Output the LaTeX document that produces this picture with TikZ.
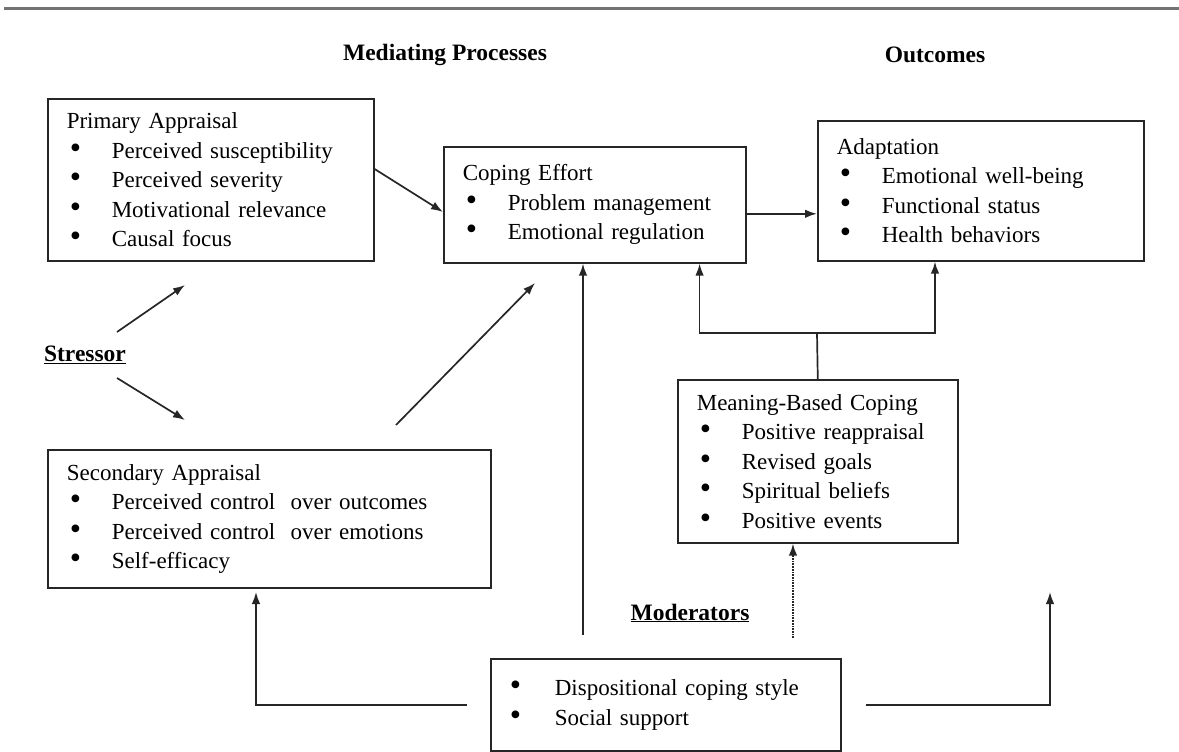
\documentclass[tikz,border=0pt]{standalone}
\usepackage{fontspec}
\setmainfont{Liberation Serif}
\usetikzlibrary{arrows.meta,calc}
\newcommand{\dotmark}{\scalebox{1.4}{\textbullet}}
\newcommand{\itm}[1]{\hspace*{3pt}\makebox[42pt][l]{\dotmark}#1}

\begin{document}
\begin{tikzpicture}[x=1pt,y=-1pt,
  stage/.style={rectangle,draw=black!85,line width=1.6pt,anchor=north west,align=left,inner xsep=19pt,text=black,font=\fontsize{23}{29.5}\selectfont},
  heading/.style={text=black,font=\fontsize{23.5}{28}\selectfont\bfseries},
  link/.style={-{Latex[length=12pt,width=8.5pt]},line width=1.7pt,draw=black!85},
  plain/.style={line width=1.7pt,draw=black!85}]
\useasboundingbox (0,0) rectangle (1179,752);
\draw[line width=3pt,black!55] (4,9) -- (1179,9);
\node[heading] (medhead) at (445,55) {Mediating Processes};
\node[heading] (outhead) at (935,55) {Outcomes};
\node[stage,text width=288pt,minimum height=162pt] (primary) at (47,98)
  {Primary Appraisal\\ \itm{Perceived susceptibility}\\ \itm{Perceived severity}\\
   \itm{Motivational relevance}\\ \itm{Causal focus}};
\node[stage,text width=264pt,minimum height=116pt] (coping) at (443,146)
  {Coping Effort\\ \itm{Problem management}\\ \itm{Emotional regulation}};
\node[stage,text width=288pt,minimum height=140pt] (adapt) at (817,120)
  {Adaptation\\ \itm{Emotional well-being}\\ \itm{Functional status}\\ \itm{Health behaviors}};
\node[stage,text width=405pt,minimum height=138pt] (secondary) at (47,449)
  {Secondary Appraisal\\ \itm{Perceived control\ \ over outcomes}\\
   \itm{Perceived control\ \ over emotions}\\ \itm{Self-efficacy}};
\node[stage,text width=242pt,minimum height=163pt] (meaning) at (677,379)
  {Meaning-Based Coping\\ \itm{Positive reappraisal}\\ \itm{Revised goals}\\
   \itm{Spiritual beliefs}\\ \itm{Positive events}};
\node[stage,text width=312pt,minimum height=92pt] (mods) at (490,658)
  {\makebox[45pt][l]{\dotmark}Dispositional coping style\\ \makebox[45pt][l]{\dotmark}Social support};
\node[heading] (stressor) at (85,355) {\underline{Stressor}};
\node[heading] (moderators) at (690,613) {\underline{Moderators}};
% free ends
\coordinate (s1a) at (117,332);
\coordinate (s1b) at (185,285);
\coordinate (s2a) at (117,378);
\coordinate (s2b) at (185,420);
\coordinate (seca) at (396,425);
\coordinate (secb) at (535,283);
\coordinate (split) at (817,333);
\coordinate (cpfoot) at (583,635);
\coordinate (mbfoot) at (793,638);
\coordinate (leftend) at (256,592);
\coordinate (rightend) at (1050,592);
\draw[link] ($(primary.north east)+(0,71)$) -- ($(coping.north west)+(0,66)$);
\draw[link] ([yshift=-9pt]coping.east) -- ([yshift=-9pt]coping.east -| adapt.west);
\draw[link] (s1a) -- (s1b);
\draw[link] (s2a) -- (s2b);
\draw[link] (seca) -- (secb);
\draw[plain] (meaning.north) -- (split);
\draw[link] (split) -| ([xshift=-47pt]coping.south east);
\draw[link] (split) -| ([xshift=118pt]adapt.south west);
\draw[link] (cpfoot) -- (cpfoot |- coping.south);
\draw[link,densely dotted] (mbfoot) -- (mbfoot |- meaning.south);
\draw[link] ([xshift=-23pt]mods.west) -| (leftend);
\draw[link] ([xshift=24pt]mods.east) -| (rightend);
\end{tikzpicture}
\end{document}
